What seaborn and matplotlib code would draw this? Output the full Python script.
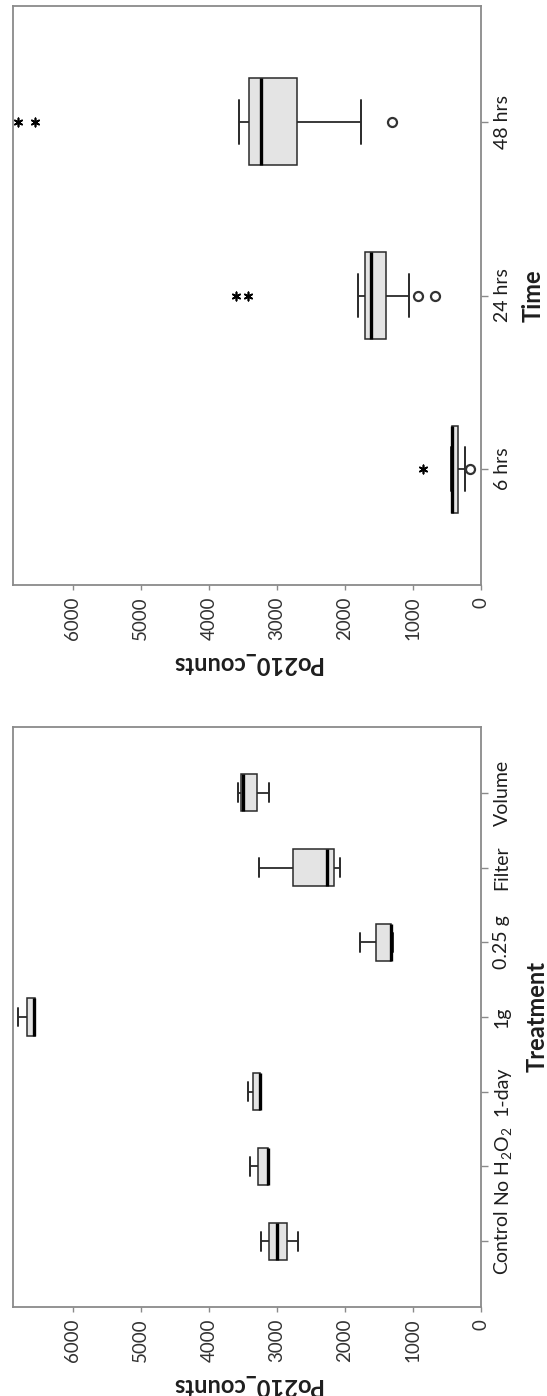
import numpy as np
import pandas as pd
import matplotlib
matplotlib.use("Agg")
import matplotlib.pyplot as plt
import seaborn as sns

# ---- data -------------------------------------------------------------
# Each box is given by its five-number summary:
# lower whisker, Q1, median, Q3, upper whisker (Po210 counts)
treatments = ["Control", "No H$_2$O$_2$", "1-day", "1g", "0.25 g", "Filter", "Volume"]
control = [2696, 2848, 3005, 3118, 3235]
no_h2o2 = [3120, 3128, 3132, 3275, 3397]
one_day = [3240, 3250, 3255, 3348, 3422]
one_g = [6559, 6559, 6565, 6672, 6804]
quarter_g = [1299, 1324, 1330, 1549, 1779]
filter_ = [2074, 2162, 2260, 2760, 3260]
volume = [3113, 3299, 3500, 3534, 3569]

times = ["6 hrs", "24 hrs", "48 hrs"]
hrs_6 = [235, 334, 420, 431, 440]
hrs_24 = [1063, 1390, 1622, 1700, 1815]
hrs_48 = [1769, 2703, 3231, 3415, 3559]

# outliers (circles) and extreme values (asterisks)
mild_time_groups = ["6 hrs", "24 hrs", "24 hrs", "48 hrs"]
mild_time_values = [165, 923, 670, 1308]
extreme_time_groups = ["6 hrs", "24 hrs", "24 hrs", "48 hrs", "48 hrs"]
extreme_time_values = [855, 3426, 3602, 6559, 6809]

value_ticks = [0, 1000, 2000, 3000, 4000, 5000, 6000]
value_label = "Po210_counts"


def long_form(groups, samples):
    rows = []
    for g, vals in zip(groups, samples):
        for v in vals:
            rows.append({"group": g, value_label: v})
    return pd.DataFrame(rows)


treat_df = long_form(treatments, [control, no_h2o2, one_day, one_g,
                                  quarter_g, filter_, volume])
time_df = long_form(times, [hrs_6, hrs_24, hrs_48])
mild_df = pd.DataFrame({"group": mild_time_groups, value_label: mild_time_values})
extreme_df = pd.DataFrame({"group": extreme_time_groups, value_label: extreme_time_values})

# ---- style ------------------------------------------------------------
sns.set_style("white")
plt.rcParams["font.family"] = ["Lato", "DejaVu Sans"]
plt.rcParams["mathtext.default"] = "regular"

FRAME = "#8a8a8a"
INK = "#1e1e1e"

fig = plt.figure(figsize=(5.47, 13.96), dpi=100)
W, H = 547.0, 1396.0


def add_axes(top_px, bottom_px, left_px=13, right_px=481):
    return fig.add_axes([left_px / W, 1 - bottom_px / H,
                         (right_px - left_px) / W, (bottom_px - top_px) / H])


ax_time = add_axes(6, 585)
ax_treat = add_axes(727, 1307)


def draw_panel(ax, df, order, cat_label, mild=None, extreme=None):
    sns.boxplot(data=df, x=value_label, y="group", order=order, orient="h",
                whis=(0, 100), showfliers=False, width=0.5,
                color="#e4e4e4", saturation=1, linecolor="#2a2a2a",
                linewidth=1.1,
                medianprops=dict(color="black", linewidth=2.4),
                whiskerprops=dict(color="#2a2a2a", linewidth=1.3),
                capprops=dict(color="#2a2a2a", linewidth=1.4),
                ax=ax)
    if mild is not None:
        sns.stripplot(data=mild, x=value_label, y="group", order=order,
                      orient="h", jitter=False, marker="o", size=6.5,
                      color="white", edgecolor="#333333", linewidth=1.6,
                      ax=ax)
    if extreme is not None:
        sns.stripplot(data=extreme, x=value_label, y="group", order=order,
                      orient="h", jitter=False, marker=(6, 2, 0), size=6,
                      color="black", edgecolor="black", linewidth=1.2,
                      ax=ax)

    n = len(order)
    margin = 0.667 if n == 3 else 0.88
    ax.set_ylim(-margin, n - 1 + margin)
    ax.set_xlim(6880, 0)
    ax.set_xticks(value_ticks)
    ax.set_xticklabels([str(v) for v in value_ticks])

    for side in ["left", "right", "top", "bottom"]:
        ax.spines[side].set_visible(True)
        ax.spines[side].set_color(FRAME)
        ax.spines[side].set_linewidth(1.3)

    ax.yaxis.tick_right()
    ax.yaxis.set_label_position("right")
    ax.tick_params(axis="y", which="both", left=False, right=True,
                   labelleft=False, labelright=True, length=5, width=1.0,
                   color=FRAME, pad=4, labelsize=14, labelcolor=INK)
    ax.tick_params(axis="x", which="both", bottom=True, top=False,
                   length=3.5, width=1.0, color=FRAME, pad=5,
                   labelsize=13.5, labelcolor="#333333", labelrotation=90)
    for lbl in ax.get_yticklabels():
        lbl.set_rotation(90)
        lbl.set_va("center")
        lbl.set_ha("left")

    ax.set_ylabel(cat_label, fontsize=17, fontweight="bold", color=INK,
                  rotation=90, labelpad=8)
    ax.set_xlabel(value_label, fontsize=17, fontweight="bold", color=INK,
                  rotation=180, labelpad=8)


draw_panel(ax_time, time_df, times, "Time", mild=mild_df, extreme=extreme_df)
draw_panel(ax_treat, treat_df, treatments, "Treatment")

fig.savefig("out.png", dpi=100, facecolor="white")
